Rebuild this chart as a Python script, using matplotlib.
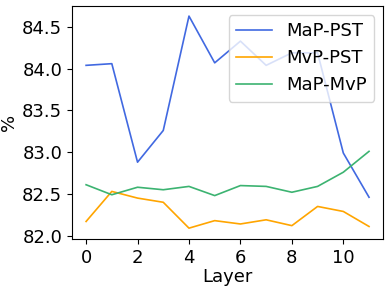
import matplotlib
matplotlib.use("Agg")
import matplotlib.pyplot as plt

layers = list(range(12))
map_pst = [84.04, 84.06, 82.88, 83.26, 84.63, 84.07, 84.33, 84.04, 84.19, 84.19, 82.99, 82.46]
mvp_pst = [82.17, 82.53, 82.45, 82.40, 82.09, 82.18, 82.14, 82.19, 82.12, 82.35, 82.29, 82.11]
map_mvp = [82.61, 82.49, 82.58, 82.55, 82.59, 82.48, 82.60, 82.59, 82.52, 82.59, 82.76, 83.01]
labels = ["MaP-PST", "MvP-PST", "MaP-MvP"]
colors = ["royalblue", "orange", "mediumseagreen"]

plt.rcParams['font.size'] = 13
fig = plt.figure(figsize=(3.91, 2.89), dpi=100)
ax = fig.add_axes([0.184, 0.173, 0.796, 0.806])
for ys, lab, c in zip([map_pst, mvp_pst, map_mvp], labels, colors):
    ax.plot(layers, ys, color=c, label=lab, linewidth=1.2)
ax.set_xlabel("Layer", labelpad=1)
ax.set_ylabel("%", labelpad=3)
ax.set_xticks([0, 2, 4, 6, 8, 10])
ax.set_yticks([82.0, 82.5, 83.0, 83.5, 84.0, 84.5])
ax.set_xlim(-0.55, 11.55)
ax.set_ylim(81.96, 84.75)
ax.legend(loc="upper right")
fig.savefig("out.png", dpi=100)
